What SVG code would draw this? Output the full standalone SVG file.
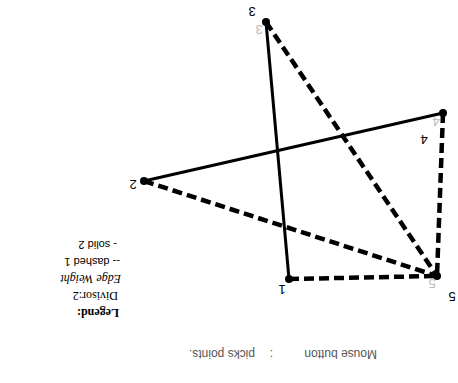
<svg xmlns="http://www.w3.org/2000/svg" width="458" height="383" viewBox="0 0 458 383">
<style>
.solid{stroke:#000;stroke-width:3;fill:none;stroke-linecap:round}
.dashed{stroke:#000;stroke-width:4.5;fill:none;stroke-dasharray:10 5}
.dot{fill:#000}
.lbl{font-family:"Liberation Sans",Arial,sans-serif;font-size:13px;fill:#000;text-anchor:middle}
.glbl{font-family:"Liberation Sans",Arial,sans-serif;font-size:13px;fill:#bbbbbb;text-anchor:middle}
.ser{font-family:"Liberation Serif","Times New Roman",serif;font-size:12px;fill:#000}
.sans{font-family:"Liberation Sans",Arial,sans-serif;font-size:11px;fill:#000}
.mouse{font-family:"Liberation Sans",Arial,sans-serif;font-size:12px;fill:#555}
</style>
<rect width="458" height="383" fill="#fff"/>
<g transform="rotate(180 229 191.5)">
<g id="connectors">
<line class="solid" x1="169" y1="104" x2="192" y2="361"/>
<line class="solid" x1="314" y1="202" x2="15" y2="270"/>
<line class="dashed" x1="192" y1="361" x2="21" y2="107"/>
<line class="dashed" x1="314" y1="202" x2="21" y2="107"/>
<line class="dashed" x1="169" y1="104" x2="21" y2="107"/>
<line class="dashed" x1="15" y1="270" x2="21" y2="107"/>
</g>
<g id="node1"><circle class="dot" cx="169" cy="104" r="4"/><text class="lbl" x="176" y="98">1</text></g>
<g id="node2"><circle class="dot" cx="314" cy="202" r="4"/><text class="lbl" x="325" y="203">2</text></g>
<g id="node3"><circle class="dot" cx="192" cy="361" r="4"/><text class="glbl" x="199" y="358">3</text><text class="lbl" x="206" y="376">3</text></g>
<g id="node4"><circle class="dot" cx="15" cy="270" r="4"/><text class="glbl" x="22" y="266">4</text><text class="lbl" x="34" y="248">4</text></g>
<g id="node5"><circle class="dot" cx="21" cy="107" r="4"/><text class="glbl" x="26" y="104">5</text><text class="lbl" x="6" y="91">5</text></g>
<g id="legend">
<text class="ser" x="339" y="74" font-weight="bold">Legend:</text>
<text class="ser" x="340" y="91">Divisor:2</text>
<text class="ser" x="337" y="108" font-style="italic">Edge Weight</text>
<text class="sans" x="338" y="125">--   dashed 1</text>
<text class="sans" x="341" y="142">-    solid 2</text>
</g>
<g id="mouse">
<text class="mouse" x="81" y="33">Mouse button</text>
<text class="mouse" x="185" y="33">:</text>
<text class="mouse" x="203" y="33">picks points.</text>
</g>
</g>
</svg>
